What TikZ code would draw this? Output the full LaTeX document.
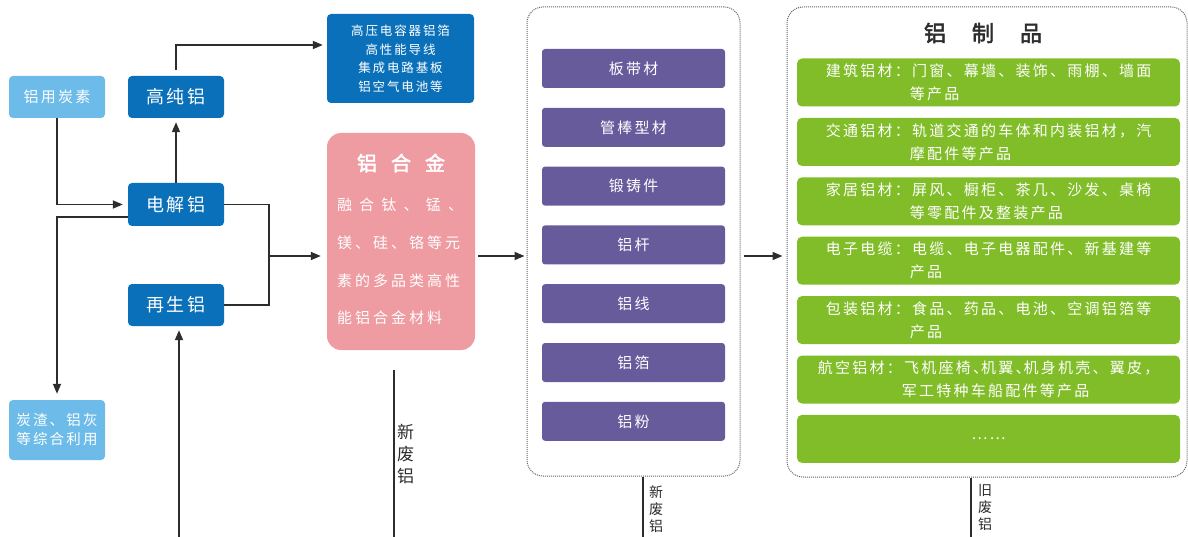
\documentclass[tikz,border=0pt]{standalone}
\usepackage{fontspec}
\newfontfamily\cjk{Noto Sans CJK SC}[AutoFakeBold=2.5]
\newfontfamily\cjksp{Noto Sans CJK SC}[LetterSpace=15,AutoFakeBold=2.5]
\newfontfamily\cjkwide{Noto Sans CJK SC}[LetterSpace=20]
\usetikzlibrary{arrows.meta, positioning}
\definecolor{lightblue}{RGB}{108,187,232}
\definecolor{deepblue}{RGB}{10,112,185}
\definecolor{alloypink}{RGB}{238,155,162}
\definecolor{barpurple}{RGB}{104,91,156}
\definecolor{leafgreen}{RGB}{128,189,40}
\definecolor{linegray}{RGB}{45,45,45}
\definecolor{framegray}{RGB}{100,100,100}

\begin{document}
\begin{tikzpicture}[
  x=1pt, y=-1pt,
  node distance=19.4pt,
  srcbox/.style={rectangle, rounded corners=4pt, fill=lightblue, text=white, minimum width=96pt,
                 inner sep=0pt, align=center},
  metalbox/.style={rectangle, rounded corners=4pt, fill=deepblue, text=white, minimum width=96pt,
                   minimum height=42pt, inner sep=0pt, font=\cjksp\fontsize{18}{20}\selectfont},
  formbar/.style={rectangle, rounded corners=3pt, fill=barpurple, text=white, minimum width=183pt,
                  minimum height=39pt, inner sep=0pt, font=\cjksp\fontsize{15}{18}\selectfont},
  usebar/.style={rectangle, rounded corners=5pt, fill=leafgreen, text=white, minimum width=383pt,
                 minimum height=48pt, inner sep=0pt, align=left, font=\cjksp\fontsize{15}{23}\selectfont},
  groupbox/.style={rectangle, rounded corners=16pt, draw=framegray, densely dotted, line width=1pt, inner sep=0pt},
  arrow/.style={-{Triangle[length=10pt,width=8pt]}, line width=1.7pt, draw=linegray},
  link/.style={line width=1.7pt, draw=linegray},
  scraplbl/.style={text=linegray, align=center, inner sep=0pt}
]
\useasboundingbox (0,0) rectangle (1188,537);

% raw material and primary aluminium
\node[srcbox, minimum height=42pt, font=\cjksp\fontsize{15}{17}\selectfont] (carbon) at (57,97) {铝用炭素};
\node[metalbox] (hpal) at (176,97) {高纯铝};
\node[metalbox, minimum height=43pt] (elec) at (176,204.5) {电解铝};
\node[metalbox] (recyc) at (176,305) {再生铝};
\node[srcbox, minimum height=60pt, font=\cjksp\fontsize{14.5}{19}\selectfont] (slag) at (57,430) {炭渣、铝灰\\等综合利用};

\node[rectangle, rounded corners=4pt, fill=deepblue, text=white, minimum width=147pt, minimum height=89pt,
      inner sep=0pt, align=center, font=\cjksp\fontsize{12.5}{18.5}\selectfont] (hpuse) at (400.5,58.5)
      {高压电容器铝箔\\高性能导线\\集成电路基板\\铝空气电池等};

% alloy
\node[rectangle, rounded corners=14pt, fill=alloypink, minimum width=148pt, minimum height=217pt] (alloy) at (401,241.5) {};
\node[text=white, inner sep=0pt, font=\cjk\bfseries\fontsize{20}{22}\selectfont] (alloyhd) at (401,163)
      {铝\hspace{14pt}合\hspace{14pt}金};
\node[text=white, inner sep=0pt, align=left, font=\cjkwide\fontsize{15}{37.7}\selectfont] (alloytxt) at (400,261.5)
      {\makebox[126pt][s]{融 合 钛 、 锰 、}\\镁、硅、铬等元\\素的多品类高性\\能铝合金材料};

% semi-finished forms
\node[groupbox, minimum width=213pt, minimum height=469pt] (forms) at (633.5,241.5) {};
\node[formbar] (f1) at (633.5,68.5) {板带材};
\node[formbar, below=of f1] (f2) {管棒型材};
\node[formbar, below=of f2] (f3) {锻铸件};
\node[formbar, below=of f3] (f4) {铝杆};
\node[formbar, below=of f4] (f5) {铝线};
\node[formbar, below=of f5] (f6) {铝箔};
\node[formbar, below=of f6] (f7) {铝粉};

% products
\node[groupbox, minimum width=400pt, minimum height=470pt] (prods) at (987,242) {};
\node[text=linegray, inner sep=0pt, font=\cjk\bfseries\fontsize{22}{24}\selectfont] (prodhd) at (983,33)
      {铝\hspace{26pt}制\hspace{26pt}品};
\node[usebar] (p1) at (988.5,82.5) {建筑铝材：门窗、幕墙、装饰、雨棚、墙面\\\phantom{建筑铝材：}等产品};
\node[usebar, below=11pt of p1] (p2) {交通铝材：轨道交通的车体和内装铝材，汽\\\phantom{交通铝材：}摩配件等产品};
\node[usebar, below=11pt of p2] (p3) {家居铝材：屏风、橱柜、茶几、沙发、桌椅\\\phantom{家居铝材：}等零配件及整装产品};
\node[usebar, below=11pt of p3] (p4) {电子电缆：电缆、电子电器配件、新基建等\\\phantom{电子电缆：}产品};
\node[usebar, below=11pt of p4] (p5) {包装铝材：食品、药品、电池、空调铝箔等\\\phantom{包装铝材：}产品};
\node[usebar, below=11pt of p5] (p6) {航空铝材：飞机座椅、\kern-7pt 机翼、\kern-7pt 机身机壳、翼皮，\\\phantom{航空铝材：}军工特种车船配件等产品};
\node[usebar, below=11pt of p6, align=center] (p7) {……};

% connectors
\draw[arrow, shorten >=5pt] (carbon.south) |- (elec.west);
\draw[arrow, shorten >=6pt] ([yshift=-12.5pt]elec.west) -| (slag.north);
\draw[arrow, shorten >=4pt] (elec.north) -- (hpal.south);
\draw[arrow, shorten <=6pt, shorten >=4pt] (hpal.north) |- ([yshift=13.5pt]hpuse.west);

\coordinate (merge) at (269,256);
\draw[link] (elec.east) -| (merge);
\draw[link] (recyc.east) -| (merge);
\draw[arrow, shorten >=6pt] (merge) -- (merge -| alloy.west);
\draw[arrow, shorten <=3pt, shorten >=2pt] (merge -| alloy.east) -- (merge -| forms.west);
\draw[arrow, shorten <=3pt, shorten >=4pt] (merge -| forms.east) -- (merge -| prods.west);

% scrap return
\coordinate (recycin) at (179,537);
\draw[arrow, shorten >=4pt] (recycin) -- (recycin |- recyc.south);
\coordinate (scrapa) at (394,537);
\draw[link, shorten >=20pt] (scrapa) -- (scrapa |- alloy.south);
\node[scraplbl, anchor=west, font=\cjk\fontsize{17}{22}\selectfont] (scraplbla) at (397,454) {新\\废\\铝};
\coordinate (scrapb) at (643,537);
\draw[link] (scrapb) -- (scrapb |- forms.south);
\node[scraplbl, font=\cjk\fontsize{14}{17}\selectfont] (scraplblb) at (656,509) {新\\废\\铝};
\coordinate (scrapc) at (971,537);
\draw[link] (scrapc) -- (scrapc |- prods.south);
\node[scraplbl, font=\cjk\fontsize{14}{17}\selectfont] (scraplblc) at (985,507) {旧\\废\\铝};

\end{tikzpicture}
\end{document}
